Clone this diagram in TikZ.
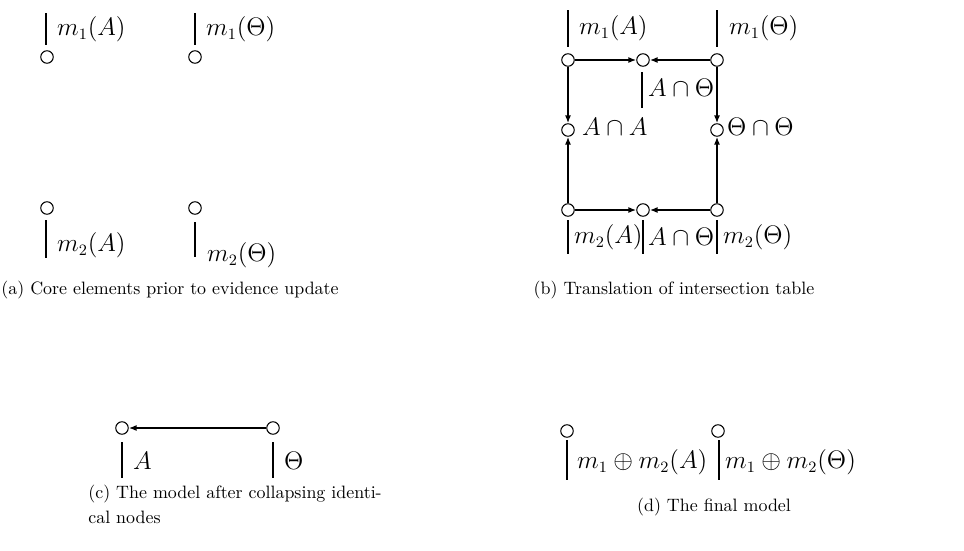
\documentclass[tikz,border=0pt]{standalone}
\usetikzlibrary{arrows.meta}
\begin{document}
\begin{tikzpicture}[x=0.02cm,y=-0.02cm,
    vertex/.style={circle,draw,line width=0.6pt,fill=white,inner sep=0pt,minimum size=0.25cm},
    flow/.style={line width=0.9pt,-{Latex[length=4.5pt,width=3.5pt]}},
    tick/.style={line width=0.9pt},
    lbl/.style={anchor=west,inner sep=1pt,font=\fontsize{13.4}{16}\selectfont},
    capt/.style={inner sep=0pt,font=\fontsize{10.2}{14}\selectfont}]
    \useasboundingbox (0,0) rectangle (964,551);

    % (a) core elements, nothing connected yet
    \node[vertex] (a1A) at (47,57) {};
    \node[vertex] (a1T) at (195,57) {};
    \node[vertex] (a2A) at (47,208) {};
    \node[vertex] (a2T) at (195,208) {};
    \draw[tick] (46,13) -- (46,45);
    \draw[tick] (195,13) -- (195,45);
    \draw[tick] (46,220) -- (46,258);
    \draw[tick] (195,222) -- (195,257);
    \node[lbl] (la1A) at (55,29) {$m_1(A)$};
    \node[lbl] (la1T) at (204,29) {$m_1(\Theta)$};
    \node[lbl] (la2A) at (55,245) {$m_2(A)$};
    \node[lbl] (la2T) at (205,255) {$m_2(\Theta)$};
    \node[capt] (capa) at (170,290) {(a) Core elements prior to evidence update};

    % (b) the intersection table as a graph
    \node[vertex] (tl) at (568,60) {};
    \node[vertex] (tm) at (643,60) {};
    \node[vertex] (tr) at (717,60) {};
    \node[vertex] (ml) at (568,130) {};
    \node[vertex] (mr) at (717,130) {};
    \node[vertex] (bl) at (568,210) {};
    \node[vertex] (bm) at (643,210) {};
    \node[vertex] (br) at (717,210) {};
    \draw[flow] (tl) -- (tm);
    \draw[flow] (tr) -- (tm);
    \draw[flow] (bl) -- (bm);
    \draw[flow] (br) -- (bm);
    \draw[flow] (tl) -- (ml);
    \draw[flow] (bl) -- (ml);
    \draw[flow] (tr) -- (mr);
    \draw[flow] (br) -- (mr);
    \draw[tick] (568,10) -- (568,47);
    \draw[tick] (717,10) -- (717,47);
    \draw[tick] (642,72) -- (642,108);
    \draw[tick] (568,220) -- (568,254);
    \draw[tick] (643,220) -- (643,254);
    \draw[tick] (717,220) -- (717,254);
    \node[lbl] (lb1A) at (577,28) {$m_1(A)$};
    \node[lbl] (lb1T) at (727,28) {$m_1(\Theta)$};
    \node[lbl] (lbAT) at (646,88) {$A\cap\Theta$};
    \node[lbl] (lbAA) at (580,127) {$A\cap A$};
    \node[lbl] (lbTT) at (725,127) {$\Theta\cap\Theta$};
    \node[lbl] (lb2A) at (572,237) {$m_2(A)$};
    \node[lbl] (lbAT2) at (646,237) {$A\cap\Theta$};
    \node[lbl] (lb2T) at (721,237) {$m_2(\Theta)$};
    \node[capt] (capb) at (674,290) {(b) Translation of intersection table};

    % (c) identical nodes collapsed
    \node[vertex] (cA) at (122,428) {};
    \node[vertex] (cT) at (273,428) {};
    \draw[flow] (cT) -- (cA);
    \draw[tick] (122,442) -- (122,478);
    \draw[tick] (273,442) -- (273,478);
    \node[lbl] (lcA) at (131,461) {$A$};
    \node[lbl] (lcT) at (282,461) {$\Theta$};
    \node[capt,anchor=north west,align=left] (capc) at (88,485)
        {(c) The model after collapsing identi-\\cal nodes};

    % (d) final model
    \node[vertex] (dA) at (567,431) {};
    \node[vertex] (dT) at (718,431) {};
    \draw[tick] (567,440) -- (567,480);
    \draw[tick] (719,440) -- (719,480);
    \node[lbl] (ldA) at (575,462) {$m_1\oplus m_2(A)$};
    \node[lbl] (ldT) at (723,462) {$m_1\oplus m_2(\Theta)$};
    \node[capt] (capd) at (714,507) {(d) The final model};
\end{tikzpicture}
\end{document}
